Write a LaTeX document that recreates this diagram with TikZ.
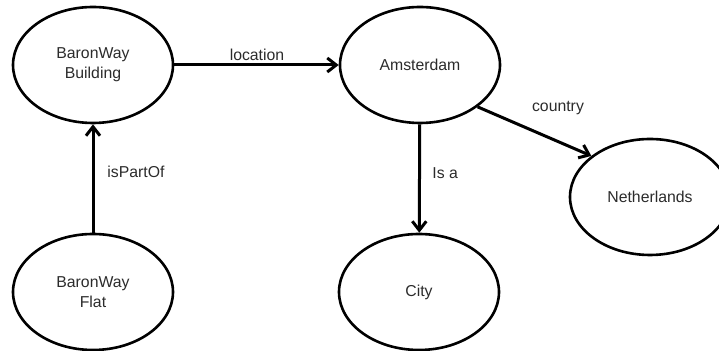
\documentclass[tikz,border=0pt]{standalone}
\usepackage{fontspec}
\setmainfont{Liberation Sans}
\usetikzlibrary{shapes.geometric,arrows.meta}
\definecolor{labelgray}{HTML}{2B2B2B}
\begin{document}
\begin{tikzpicture}[x=0.5pt,y=-0.5pt,
  concept/.style={draw, ellipse, line width=1.3pt, inner sep=0pt,
    minimum width=80pt, minimum height=58pt, align=center,
    text=labelgray, font=\fontsize{7.9}{10}\selectfont},
  relation/.style={line width=1.5pt,
    -{Straight Barb[length=4.5pt,width=7pt,line width=1.5pt]}},
  rellabel/.style={text=labelgray, font=\fontsize{7.9}{10}\selectfont, inner sep=0pt}]
\useasboundingbox (0,0) rectangle (719,351);

\node[concept] (building) at (93,65) {BaronWay\\Building};
\node[concept] (amsterdam) at (420,65) {Amsterdam};
\node[concept] (netherlands) at (650,197) {Netherlands};
\node[concept] (city) at (419,292) {City};
\node[concept] (flat) at (93,292) {BaronWay\\Flat};

\draw[relation] (building) -- (amsterdam);
\draw[relation] (flat) -- (building);
\draw[relation] (amsterdam) -- (city);
\draw[relation] (amsterdam.-36) -- (netherlands.145);

\node[rellabel] (locationlbl) at (257,55) {location};
\node[rellabel, anchor=west] (ispartoflbl) at (107,172) {isPartOf};
\node[rellabel, anchor=west] (isalbl) at (432,173) {Is a};
\node[rellabel] (countrylbl) at (558,108) {country};
\end{tikzpicture}
\end{document}
